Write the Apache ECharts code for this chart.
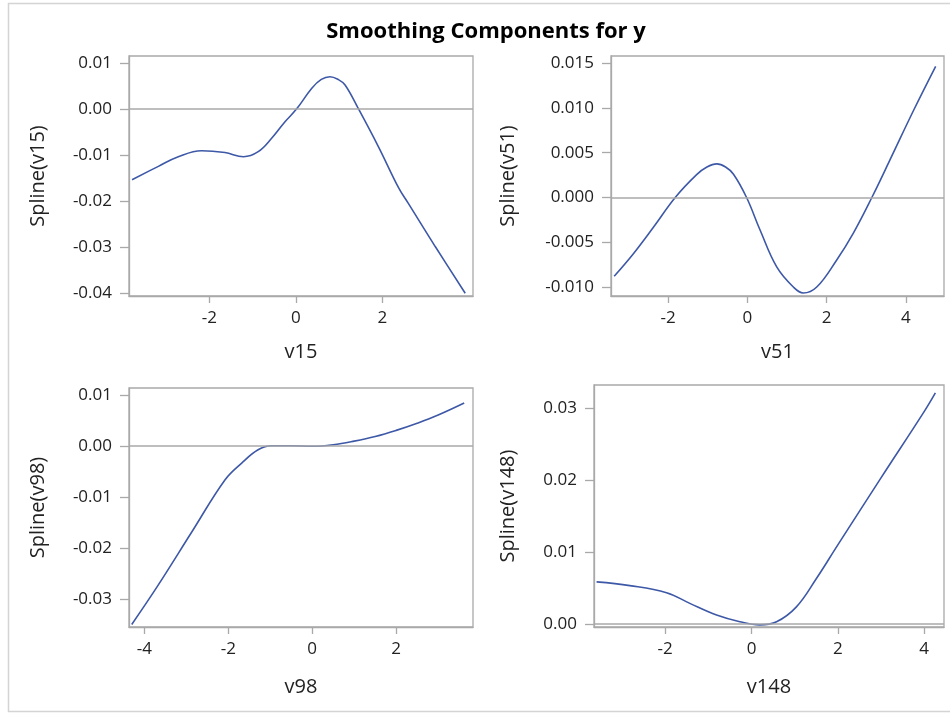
<!DOCTYPE html>
<html>
<head>
<meta charset="utf-8">
<script src="https://cdn.jsdelivr.net/npm/echarts@6/dist/echarts.min.js"></script>
<style>
  html, body { margin: 0; padding: 0; background: #fff; }
  #chart { width: 950px; height: 715px; }
</style>
</head>
<body>
<div id="chart"></div>
<script>
// values
const v15X = [-3.79, -3.18, -2.72, -2.18, -1.64, -1.21, -0.87, -0.56, -0.25, 0.02, 0.37, 0.59, 0.79, 0.98, 1.14, 1.45, 1.91, 2.38, 2.6, 3.23, 3.92];
const v15Y = [-0.0154, -0.0125, -0.0104, -0.0091, -0.0095, -0.0104, -0.0093, -0.0064, -0.0028, 0.0000, 0.0045, 0.0064, 0.0070, 0.0064, 0.0052, 0.0000, -0.0082, -0.0172, -0.0205, -0.0300, -0.0401];

const v51X = [-3.36, -2.87, -2.37, -1.82, -1.28, -1.02, -0.77, -0.55, -0.35, -0.02, 0.32, 0.74, 1.16, 1.41, 1.75, 2.25, 2.67, 3.14, 3.60, 4.2, 4.75];
const v51Y = [-0.0088, -0.00625, -0.00333, 0.0, 0.00255, 0.0034, 0.00375, 0.0034, 0.0026, 0.0, -0.00363, -0.00775, -0.0100, -0.01067, -0.0100, -0.0070, -0.0040, 0.0, 0.00423, 0.0098, 0.01465];

const v98X = [-4.30, -3.67, -2.87, -2.08, -1.68, -1.29, -0.97, -0.5, 0.0, 0.5, 1.0, 1.5, 2.0, 2.5, 3.0, 3.62];
const v98Y = [-0.0349, -0.0272, -0.0168, -0.0066, -0.0033, -0.0007, 0.0001, 0.0001, 0.0000, 0.0003, 0.0010, 0.0019, 0.0031, 0.0045, 0.0061, 0.00845];

const v148X = [-3.59, -2.82, -1.97, -1.43, -0.81, -0.27, 0.19, 0.58, 1.04, 1.5, 2.0, 3.0, 4.0, 4.26];
const v148Y = [0.00586, 0.00535, 0.00437, 0.00288, 0.00126, 0.00033, -0.0001, 0.00033, 0.0024, 0.0063, 0.0110, 0.0203, 0.0295, 0.0321];

// tick labels
const v15XTicks = [-2, 0, 2];
const v15YTicks = [-0.04, -0.03, -0.02, -0.01, 0, 0.01];
const v51XTicks = [-2, 0, 2, 4];
const v51YTicks = [-0.010, -0.005, 0, 0.005, 0.010, 0.015];
const v98XTicks = [-4, -2, 0, 2];
const v98YTicks = [-0.03, -0.02, -0.01, 0, 0.01];
const v148XTicks = [-2, 0, 2, 4];
const v148YTicks = [0, 0.01, 0.02, 0.03];

const title = 'Smoothing Components for y';
const FONT = '"Open Sans", "Noto Sans", sans-serif';
const LINE = '#3d58a6';
const GRAY = '#a9a9a9';

const panels = [
  { name: 'v15', xs: v15X, ys: v15Y, xt: v15XTicks, yt: v15YTicks, dec: 2,
    xr: [-3.86, 4.10], yr: [-0.0407, 0.0115],
    grid: { left: 129, right: 477, top: 56, height: 240 }, yGap: 81, xGap: 46 },
  { name: 'v51', xs: v51X, ys: v51Y, xt: v51XTicks, yt: v51YTicks, dec: 3,
    xr: [-3.44, 4.96], yr: [-0.0110, 0.0158],
    grid: { left: 611, right: 6, top: 56, height: 240 }, yGap: 93, xGap: 46 },
  { name: 'v98', xs: v98X, ys: v98Y, xt: v98XTicks, yt: v98YTicks, dec: 2,
    xr: [-4.365, 3.83], yr: [-0.0354, 0.0114],
    grid: { left: 129, right: 477, top: 388, height: 239 }, yGap: 81, xGap: 50 },
  { name: 'v148', xs: v148X, ys: v148Y, xt: v148XTicks, yt: v148YTicks, dec: 2,
    xr: [-3.65, 4.46], yr: [-0.0004, 0.0332],
    grid: { left: 594, right: 6, top: 385, height: 242 }, yGap: 76, xGap: 50 }
];

const grids = [], xAxes = [], yAxes = [], series = [];
panels.forEach((p, i) => {
  grids.push(Object.assign({ show: true, borderColor: GRAY, borderWidth: 1.3, backgroundColor: '#fff' }, p.grid));
  xAxes.push({
    type: 'value', gridIndex: i, min: p.xr[0], max: p.xr[1],
    name: p.name, nameLocation: 'middle', nameGap: p.xGap,
    nameTextStyle: { fontFamily: FONT, fontSize: 20, color: '#222' },
    axisLine: { show: true, onZero: false, lineStyle: { color: GRAY, width: 1.3 } },
    axisTick: { show: true, customValues: p.xt, length: 7, lineStyle: { color: GRAY, width: 1.3 } },
    axisLabel: { customValues: p.xt, margin: 14, fontFamily: FONT, fontSize: 17, color: '#222',
      formatter: v => String(Math.round(v)) },
    splitLine: { show: false }
  });
  yAxes.push({
    type: 'value', gridIndex: i, min: p.yr[0], max: p.yr[1],
    name: 'Spline(' + p.name + ')', nameLocation: 'middle', nameGap: p.yGap, nameRotate: 90,
    nameTextStyle: { fontFamily: FONT, fontSize: 20, color: '#222' },
    axisLine: { show: true, onZero: false, lineStyle: { color: GRAY, width: 1.3 } },
    axisTick: { show: true, customValues: p.yt, length: 9, lineStyle: { color: GRAY, width: 1.3 } },
    axisLabel: { customValues: p.yt, margin: 17, fontFamily: FONT, fontSize: 17, color: '#222',
      formatter: v => v.toFixed(p.dec) },
    splitLine: { show: false }
  });
  // zero reference line
  series.push({
    type: 'line', xAxisIndex: i, yAxisIndex: i, data: [], z: 1,
    markLine: { silent: true, symbol: 'none', label: { show: false },
      lineStyle: { color: GRAY, width: 1.5, type: 'solid' }, data: [{ yAxis: 0 }] }
  });
  series.push({
    type: 'line', xAxisIndex: i, yAxisIndex: i, z: 3,
    data: p.xs.map((x, k) => [x, p.ys[k]]),
    showSymbol: false, smooth: 0.4,
    lineStyle: { color: LINE, width: 1.6 }, itemStyle: { color: LINE }
  });
});

const chart = echarts.init(document.getElementById('chart'));
chart.setOption({
  backgroundColor: '#fff',
  animation: false,
  graphic: [
    { type: 'rect', shape: { x: 8.5, y: 3.5, width: 960, height: 708 },
      style: { fill: 'none', stroke: '#d4d4d4', lineWidth: 1.5 }, z: -10 },
    { type: 'text', x: 486, y: 32,
      style: { text: title, fontFamily: FONT, fontWeight: 'bold', fontSize: 22, fill: '#000',
        textAlign: 'center', textVerticalAlign: 'middle' } }
  ],
  grid: grids,
  xAxis: xAxes,
  yAxis: yAxes,
  series: series
});
</script>
</body>
</html>
